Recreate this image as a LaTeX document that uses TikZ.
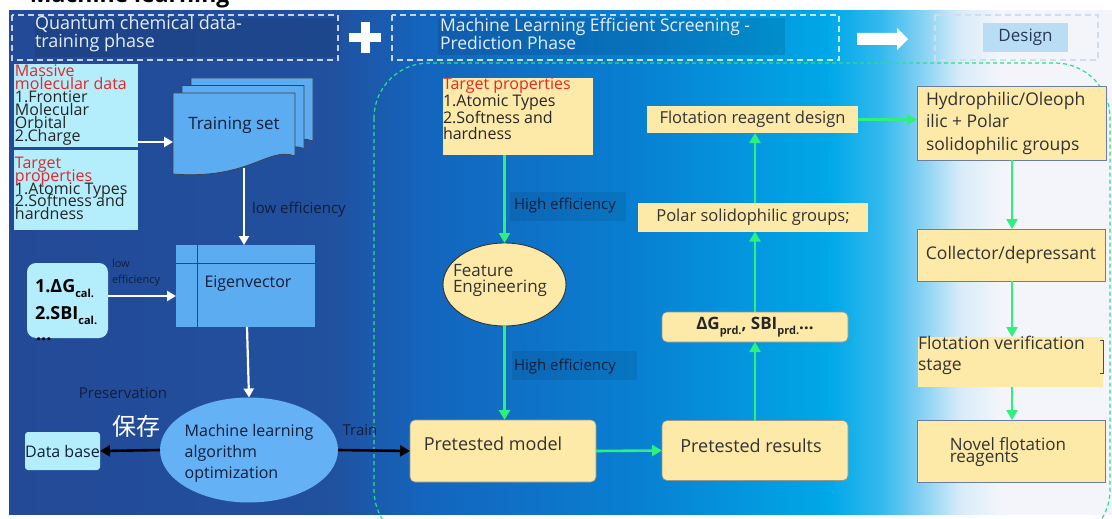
\documentclass[tikz,border=0pt]{standalone}
\usepackage{fontspec}
\setmainfont{Open Sans}
\newfontfamily\cjk{Noto Sans CJK SC}
\usetikzlibrary{arrows.meta,shapes.geometric,calc}
\definecolor{bgA}{RGB}{35,74,150}
\definecolor{bgB}{RGB}{33,80,158}
\definecolor{bgC}{RGB}{20,100,188}
\definecolor{bgD}{RGB}{8,128,210}
\definecolor{bgE}{RGB}{0,168,232}
\definecolor{bgF}{RGB}{50,185,238}
\definecolor{bgG}{RGB}{130,208,243}
\definecolor{bgH}{RGB}{215,236,248}
\definecolor{bgI}{RGB}{243,245,250}
\pgfdeclarehorizontalshading{bgshade}{100bp}{color(0bp)=(bgA); color(25bp)=(bgA); color(39.5bp)=(bgB); color(43.6bp)=(bgC); color(53.6bp)=(bgD); color(62.2bp)=(bgE); color(64.5bp)=(bgF); color(66.3bp)=(bgG); color(68.1bp)=(bgH); color(69.9bp)=(bgI); color(100bp)=(bgI)}
\definecolor{cyanbox}{RGB}{180,238,252}
\definecolor{lblue}{RGB}{92,172,242}
\definecolor{ellblue}{RGB}{100,178,245}
\definecolor{yel}{RGB}{253,233,168}
\definecolor{yedge}{RGB}{150,150,140}
\definecolor{gline}{RGB}{45,240,125}
\definecolor{dtext}{RGB}{18,30,58}
\definecolor{redt}{RGB}{225,40,40}
\definecolor{hdr}{RGB}{228,238,250}
\definecolor{dsgnbg}{RGB}{185,222,244}
\definecolor{dsgntx}{RGB}{40,55,85}
\definecolor{dash3}{RGB}{205,222,238}
\definecolor{gdashc}{RGB}{40,225,135}
\definecolor{boxline}{RGB}{105,125,165}
\definecolor{eigline}{RGB}{40,70,130}
\newcommand\mysub[1]{\raisebox{-0.28em}{\fontsize{11}{11}\selectfont #1}}
\newcommand\tightls{\lineskiplimit -20pt\relax}
\begin{document}
\begin{tikzpicture}[x=1pt,y=-1pt,
  every node/.style={inner sep=0pt, outer sep=0pt, text=dtext},
  hdash/.style={draw=white, draw opacity=.75, line width=1.4, dash pattern=on 6pt off 4pt},
  cbox/.style={fill=cyanbox, draw=none},
  lbbox/.style={fill=lblue, draw=black!75, line width=.7},
  ybox/.style={fill=yel, draw=yedge, line width=.6, rounded corners=5},
  yrect/.style={fill=yel, draw=boxline, line width=.9},
  warrow/.style={draw=white, line width=2.2, -{Triangle[width=10pt,length=9pt]}},
  garrow/.style={draw=gline, line width=2.6, -{Triangle[width=11pt,length=10pt]}},
  barrow/.style={draw=black, line width=2.6, -{Triangle[width=11pt,length=10pt]}},
  lab/.style={font=\fontsize{15}{17}\selectfont, text=dtext}
]
\useasboundingbox (0,0) rectangle (1112,519);
\clip (0,0) rectangle (1112,519);
\fill[white] (0,0) rectangle (1112,519);
\shade[shading=bgshade] (9,11) rectangle (1112,514);

% cut-off title
\node[anchor=base west, font=\fontsize{23}{23}\selectfont\bfseries, text=black] (title) at (30,2.5) {Machine learning};

% header
\fill[black, opacity=.10] (35,18) rectangle (340,57);
\draw[hdash] (12,15) rectangle (338,60);
\node[anchor=west, align=left, font=\fontsize{18}{15.5}\selectfont, text=hdr] (h1) at (35,34) {Quantum chemical data-\\training phase};
\fill[white] (349,33) rectangle (381,42);
\fill[white] (360.5,22) rectangle (369.5,53);
\fill[black, opacity=.10] (438,18) rectangle (785,55);
\draw[hdash] (392,15) rectangle (839,60);
\node[anchor=west, align=left, font=\fontsize{17.5}{15.5}\selectfont, text=hdr] (h2) at (440,34) {Machine Learning Efficient Screening -\\Prediction Phase};
\fill[white] (857,33) -- (897,33) -- (897,28) -- (908,39) -- (897,50) -- (897,45) -- (857,45) -- cycle;
\draw[draw=dash3, line width=1.4, dash pattern=on 6pt off 4pt] (935,15) rectangle (1098,60);
\node[fill=dsgnbg, minimum width=85, minimum height=29, font=\fontsize{17}{17}\selectfont, text=dsgntx] (dsgn) at (1025.5,37.5) {Design};

% green dashed region
\draw[draw=gdashc, line width=1.2, dash pattern=on 4pt off 3pt, rounded corners=55] (374,63) rectangle (1110,545);

% ---------- left column
\node[cbox, anchor=north west, minimum width=124, minimum height=83] (mass) at (14,64) {};
\node[anchor=north west, align=left, font=\fontsize{16}{13}\selectfont\tightls] (masst) at (15,65)
  {\textcolor{redt}{Massive}\\\textcolor{redt}{molecular data}\\\textcolor{black!85}{1.Frontier}\\\textcolor{black!85}{Molecular}\\\textcolor{black!85}{Orbital}\\\textcolor{black!85}{2.Charge}};
\node[cbox, anchor=north west, minimum width=124, minimum height=80] (tgt1) at (14,150) {};
\node[anchor=north west, align=left, font=\fontsize{16}{12.8}\selectfont\tightls] (tgt1t) at (15,157)
  {\textcolor{redt}{Target}\\\textcolor{redt}{properties}\\\textcolor{black!85}{1.Atomic Types}\\\textcolor{black!85}{2.Softness and}\\\textcolor{black!85}{hardness}};

% training set stack
\foreach \dx/\dy in {18/-15, 9/-7.5, 0/0}{
  \draw[lbbox] (173+\dx,93+\dy) -- (295+\dx,93+\dy) -- (295+\dx,156+\dy)
     .. controls (268+\dx,146+\dy) and (250+\dx,180+\dy) .. (173+\dx,174+\dy) -- cycle;
}
\node[font=\fontsize{17}{17}\selectfont] (train) at (234,125) {Training set};
\coordinate (trainin) at (173,142);
\coordinate (trainout) at (244,168);
\draw[warrow] (mass.east |- trainin) -- (trainin);

% eigenvector
\node[fill=lblue, draw=none, minimum width=139, minimum height=82, anchor=north west] (eig) at (176,245) {};
\draw[draw=eigline, line width=.8] (eig.north west |- 0,263) -- (eig.north east |- 0,263);
\draw[draw=eigline, line width=.8] (197,245) -- (197,327);
\node[font=\fontsize{16}{16}\selectfont] (eigt) at (248,284) {Eigenvector};
\draw[warrow] (trainout) -- (eig.north -| trainout);
\node[lab, anchor=west] (le1) at (252,210) {low efficiency};

% Delta G cal box
\node[cbox, rounded corners=9, anchor=north west, minimum width=81, minimum height=75] (dgc) at (27,263) {};
\node[anchor=north west, align=left, font=\fontsize{18}{27}\selectfont\bfseries, text=black] (dgct) at (35,279)
  {1.ΔG\mysub{cal.}\\2.SBI\mysub{cal.}};
\node[anchor=north west, font=\fontsize{18}{18}\selectfont\bfseries, text=black] (dots) at (36,338) {...};
\draw[warrow] (dgc.east |- 0,296) -- (eig.west |- 0,296);
\node[anchor=north west, align=left, font=\fontsize{11}{16}\selectfont] (le2) at (112,259) {low\\efficiency};

% ML ellipse
\node[ellipse, fill=ellblue, draw=none, minimum width=178, minimum height=105] (mlo) at (249,450) {};
\node[align=left, font=\fontsize{16}{21}\selectfont] (mlot) at (249,453) {Machine learning\\algorithm\\optimization};
\draw[warrow] (eig.south -| 247,0) -- (mlo.north);
\node[lab] (pres) at (123,393) {Preservation};
\node[font=\fontsize{24}{24}\selectfont\cjk, text=white] (bc) at (136,426) {保存};
\node[cbox, rounded corners=3, minimum width=75, minimum height=38, font=\fontsize{16}{16}\selectfont] (db) at (62.5,451) {Data base};
\draw[barrow] (mlo.west) -- (db.east);

% ---------- middle column
\node[fill=yel, anchor=north west, minimum width=150, minimum height=77] (tgt2) at (443,78) {};
\node[anchor=north west, align=left, font=\fontsize{16}{16.7}\selectfont, text=black!85] (tgt2t) at (443,78)
  {\textcolor{redt}{Target properties}\\1.Atomic Types\\2.Softness and\\hardness};
\node[ellipse, fill=yel, draw=black!80, line width=.9, minimum width=123, minimum height=83] (fe) at (504.5,284.5) {};
\node[fill=yel, align=left, inner sep=1pt, font=\fontsize{17}{16}\selectfont, text=black!80] (fet) at (500,280) {Feature\\Engineering};
\draw[garrow] (tgt2.south -| fe.north) -- (fe.north);
\fill[black, opacity=.08] (510,192) rectangle (626,221);
\node[lab, anchor=west] (he1) at (514,206) {High efficiency};

\node[ybox, minimum width=186, minimum height=62] (pm) at (503,451) {};
\node[font=\fontsize{18}{18}\selectfont, text=black!80] (pmt) at (493,444) {Pretested model};
\draw[garrow] (fe.south) -- (pm.north -| fe.south);
\fill[black, opacity=.08] (512,351) rectangle (637,380);
\node[lab, anchor=west] (he2) at (514,367) {High efficiency};
\draw[barrow] (mlo.east) -- (pm.west);
\node[lab] (trn) at (360,430) {Train};

\node[ybox, minimum width=186, minimum height=60] (pr) at (755,450.5) {};
\node[font=\fontsize{18}{18}\selectfont, text=black!80] (prt) at (751,446) {Pretested results};
\draw[garrow] (pm.east) -- (pr.west);

\node[ybox, minimum width=186, minimum height=30, font=\fontsize{17}{17}\selectfont\bfseries, text=black!85] (dgp) at (755,327) {ΔG\mysub{prd.}, SBI\mysub{prd.}…};
\draw[garrow] (pr.north) -- (dgp.south);

\node[fill=yel, minimum width=230, minimum height=29, font=\fontsize{16.5}{16.5}\selectfont, text=black!80] (pol) at (753,217) {Polar solidophilic groups;};
\draw[garrow] (dgp.north) -- (pol.south -| dgp.north);

\node[fill=yel, minimum width=211, minimum height=27, font=\fontsize{16.5}{16.5}\selectfont, text=black!80] (frd) at (752.5,119.5) {Flotation reagent design};
\draw[garrow] (pol.north -| dgp.north) -- (frd.south -| dgp.north);

% ---------- right column
\node[yrect, anchor=north west, minimum width=189, minimum height=74] (hyd) at (917,86) {};
\node[anchor=west, align=left, font=\fontsize{17.5}{22.5}\selectfont, text=black!80] (hydt) at (926,123) {Hydrophilic/Oleoph\\ilic + Polar\\solidophilic groups};
\draw[garrow] (frd.east) -- (hyd.west |- frd.east);

\node[yrect, anchor=north west, minimum width=188, minimum height=52, font=\fontsize{17.5}{17.5}\selectfont] (col) at (917,229) {\textcolor{black!80}{Collector/depressant}};
\draw[garrow] (hyd.south -| 1012,0) -- (col.north -| 1012,0);

\node[fill=yel, anchor=north west, minimum width=185, minimum height=50] (fvs) at (918,337) {};
\node[anchor=north west, align=left, font=\fontsize{17.5}{21}\selectfont, text=black!80] (fvst) at (918,336) {Flotation verification\\stage};
\draw[draw=black!70, line width=.8] (1100,340) -- (1103,340) -- (1103,373) -- (1100,373);
\draw[garrow] (col.south -| 1012,0) -- (fvs.north -| 1012,0);

\node[yrect, anchor=north west, minimum width=188, minimum height=62] (nov) at (917,420) {};
\node[align=left, font=\fontsize{17}{12.5}\selectfont\tightls, text=black!80] (novt) at (1008,452) {Novel flotation\\reagents};
\draw[garrow] (fvs.south -| 1012,0) -- (nov.north -| 1012,0);
\end{tikzpicture}
\end{document}
